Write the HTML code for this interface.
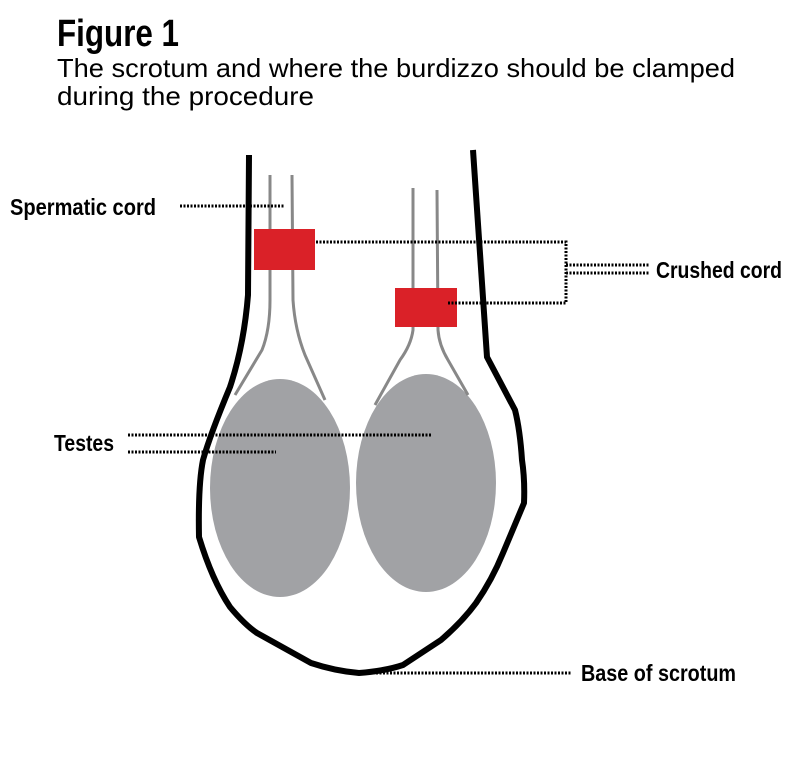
<!DOCTYPE html>
<html><head><style>
html,body{margin:0;padding:0;background:#fff;}
svg{display:block;}
text{font-family:"Liberation Sans Narrow","Liberation Sans",sans-serif;fill:#000;}
</style></head><body>
<svg width="790" height="769" viewBox="0 0 790 769" xmlns="http://www.w3.org/2000/svg">
<text x="57" y="46" font-size="38" font-weight="bold" textLength="122" lengthAdjust="spacingAndGlyphs">Figure 1</text>
<text x="57" y="77" font-size="26" textLength="678" lengthAdjust="spacingAndGlyphs">The scrotum and where the burdizzo should be clamped</text>
<text x="57" y="105" font-size="26" textLength="257" lengthAdjust="spacingAndGlyphs">during the procedure</text>

<text x="10" y="215" font-size="23" font-weight="bold" textLength="146" lengthAdjust="spacingAndGlyphs">Spermatic cord</text>
<text x="656" y="278" font-size="23" font-weight="bold" textLength="126" lengthAdjust="spacingAndGlyphs">Crushed cord</text>
<text x="54" y="451" font-size="23" font-weight="bold" textLength="60" lengthAdjust="spacingAndGlyphs">Testes</text>
<text x="581" y="681" font-size="23" font-weight="bold" textLength="155" lengthAdjust="spacingAndGlyphs">Base of scrotum</text>

<ellipse cx="280" cy="488" rx="70" ry="109" fill="#a1a2a5"/>
<ellipse cx="426" cy="483" rx="70" ry="109" fill="#a1a2a5"/>

<g fill="none" stroke="#888" stroke-width="3">
<path d="M270 175 L270 300 Q270 330 262 350 L235 395"/>
<path d="M292 175 L293 300 Q295 330 305 355 L325 400"/>
<path d="M413 188 L413 330 Q411 345 400 360 L375 405"/>
<path d="M437 190 L438 330 Q439 345 448 360 L468 395"/>
</g>

<path d="M249 155 L248 295 Q244 345 230 387 Q210 435 203 460 Q198 485 199 537 Q212 580 230 607 Q245 625 257 633 L311 663 Q335 671 359 673 Q385 671 403 665 L441 640 Q462 622 476 603 Q492 580 503 553 L524 503 Q525 480 522 460 Q520 430 515 410 L487 357 L473 150" fill="none" stroke="#000" stroke-width="6" stroke-linejoin="round"/>

<rect x="254" y="229" width="61" height="41" fill="#da2128"/>
<rect x="395" y="288" width="62" height="39" fill="#da2128"/>

<g fill="none" stroke="#000" stroke-width="3" stroke-dasharray="2 1.5">
<path d="M180 206 L284 206"/>
<path d="M316 242 L566 242 L566 303 L448 303"/>
<path d="M566 265 L649 265"/>
<path d="M566 273 L649 273"/>
<path d="M128 435 L431 435"/>
<path d="M128 452 L276 452"/>
<path d="M362 673 L572 673"/>
</g>
</svg>
</body></html>
